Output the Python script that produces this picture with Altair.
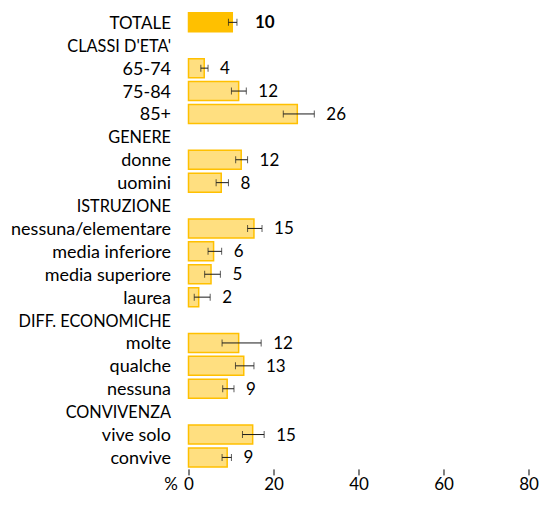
import altair as alt
import pandas as pd

categories = ["TOTALE", "CLASSI D'ETA'", "65-74", "75-84", "85+", "GENERE", "donne", "uomini",
              "ISTRUZIONE", "nessuna/elementare", "media inferiore", "media superiore", "laurea",
              "DIFF. ECONOMICHE", "molte", "qualche", "nessuna", "CONVIVENZA", "vive solo", "convive\u00a0"]
values = [10.3, None, 3.7, 11.8, 25.6, None, 12.4, 7.7, None, 15.4, 5.9, 5.3, 2.4, None,
          11.8, 13.0, 9.1, None, 15.1, 9.1]
lower = [9.4, None, 2.9, 10.1, 22.3, None, 11.1, 6.5, None, 13.9, 4.6, 3.8, 1.35, None,
         7.9, 11.05, 8.05, None, 12.7, 7.9]
upper = [11.4, None, 4.6, 13.6, 29.6, None, 13.9, 9.4, None, 17.3, 7.8, 7.5, 5.1, None,
         17.1, 15.4, 10.7, None, 17.8, 10.1]
labels = ["10", "", "4", "12", "26", "", "12", "8", "", "15", "6", "5", "2", "",
          "12", "13", "9", "", "15", "9"]
x_ticks = [0, 20, 40, 60, 80]

df = pd.DataFrame({"cat": categories, "value": values, "lo": lower, "hi": upper, "label": labels})
df["total"] = df["cat"] == "TOTALE"

FONT = "Lato"
FS_NUM = 17

cat_font_size = {
    "condition": [
        {"test": "datum.value == 'TOTALE'", "value": 17},
        {"test": "test(regexp('[A-Z]'), datum.value)", "value": 16.3},
    ],
    "value": 18,
}

y_enc = alt.Y("cat:N", sort=categories, scale=alt.Scale(domain=categories, paddingInner=0.17, paddingOuter=0.085),
              axis=alt.Axis(title=None, ticks=False, domain=False, labelPadding=18, labelFontSize=cat_font_size,
                            labelFont=FONT, labelColor="#000000", labelLimit=400, labelOffset=1.5))
y_plain = alt.Y("cat:N", sort=categories)

x_scale = alt.Scale(domain=[0, 80], nice=False)
x_axis = alt.Axis(values=x_ticks, grid=False, domain=False, tickColor="#000000", tickSize=6,
                  labelFontSize=FS_NUM, labelFont=FONT, labelColor="#000000", labelPadding=15,
                  labelBaseline="alphabetic", labelFlush=False,
                  title="%", titleFont=FONT, titleFontSize=FS_NUM, titleFontWeight="normal",
                  titleColor="#000000", titleX=-18, titleY=21, titleBaseline="alphabetic",
                  titleAlign="center", titleAngle=0)

base = alt.Chart(df).transform_filter("isValid(datum.value)")

bars = base.mark_bar(strokeWidth=1.5, stroke="#FFC000").encode(
    y=y_enc,
    x=alt.X("value:Q", scale=x_scale, axis=x_axis),
    color=alt.condition("datum.total", alt.value("#FFC000"), alt.value("#FFDF80")),
)

err = base.mark_rule(color="#1a1a1a", strokeWidth=1).encode(y=y_plain, x="lo:Q", x2="hi:Q")

cap_lo = base.mark_tick(color="#1a1a1a", thickness=1, size=7, orient="vertical").encode(y=y_plain, x="lo:Q")
cap_hi = base.mark_tick(color="#1a1a1a", thickness=1, size=7, orient="vertical").encode(y=y_plain, x="hi:Q")

txt = base.transform_filter("!datum.total").mark_text(
    align="left", baseline="middle", dx=12, dy=1, font=FONT, fontSize=FS_NUM, color="#000000").encode(
    y=y_plain, x="hi:Q", text="label:N")
txt_total = base.transform_filter("datum.total").mark_text(
    align="left", baseline="middle", dx=18, dy=1, font=FONT, fontSize=FS_NUM, fontWeight="bold", color="#000000").encode(
    y=y_plain, x="hi:Q", text="label:N")

chart = alt.layer(bars, err, cap_lo, cap_hi, txt, txt_total).properties(
    width=340, height=458,
    background="white",
    autosize=alt.AutoSizeParams(type="none"),
    padding={"left": 180.5, "top": 2.9, "right": 10.5, "bottom": 28},
).configure_view(stroke=None)

chart.save("out.html", embed_options={"renderer": "svg", "actions": False})
